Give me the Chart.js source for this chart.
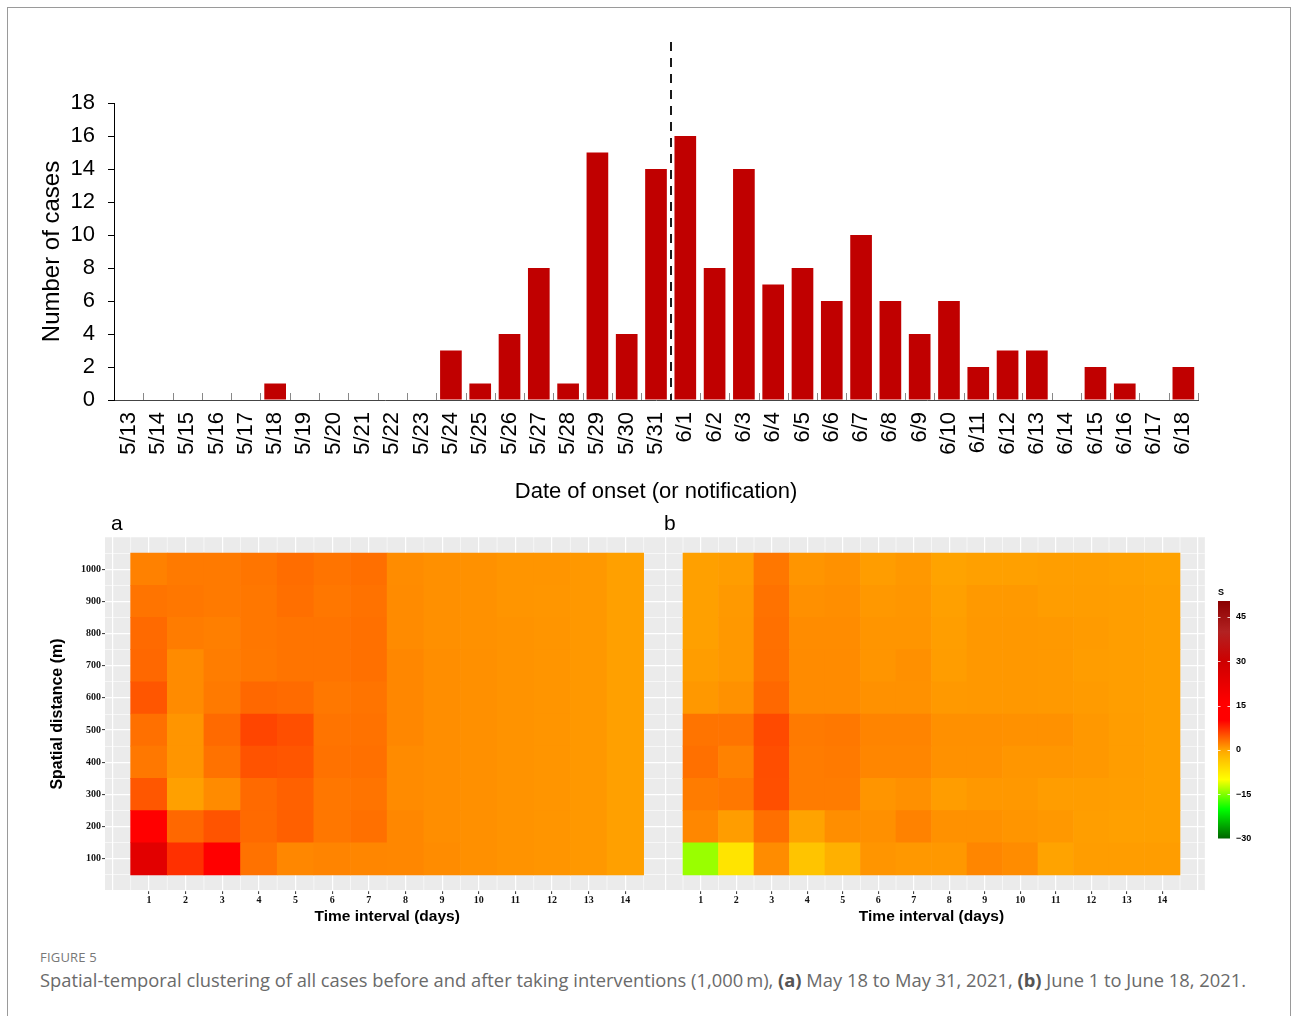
<!DOCTYPE html>
<html>
<head>
<meta charset="utf-8">
<script src="https://cdn.jsdelivr.net/npm/chart.js@4.4.0/dist/chart.umd.min.js"></script>
<style>
  body { margin: 0; background: #fff; width: 1292px; height: 1016px; overflow: hidden; position: relative; font-family: 'Liberation Sans', Arial, sans-serif; }
  .frame { position: absolute; left: 7px; top: 7px; width: 1282px; height: 1100px; border: 1px solid #9a9a9a; }
  canvas { position: absolute; }
  #barChart { left: 0; top: 0; }
  #heatA { left: 0; top: 500px; }
  #heatB { left: 640px; top: 500px; }
  #scaleBar { left: 1205px; top: 580px; }
  .panel { position: absolute; font-size: 21px; color: #000; z-index: 2; line-height: 1; }
  #figLabel { position: absolute; left: 40px; top: 948px; font: 13px 'Open Sans', sans-serif; color: #777; letter-spacing: 0.2px; }
  #caption { position: absolute; left: 40px; top: 967px; font: 17px 'Open Sans', sans-serif; color: #6a6a6a; white-space: nowrap; }
  #caption b { color: #555; }
</style>
</head>
<body>
<div class="frame"></div>
<canvas id="barChart" width="1292" height="520"></canvas>
<canvas id="heatA" width="680" height="440"></canvas>
<canvas id="heatB" width="580" height="440"></canvas>
<canvas id="scaleBar" width="60" height="270"></canvas>
<div class="panel" style="left:111px; top:512px;">a</div>
<div class="panel" style="left:664px; top:512px;">b</div>
<div id="figLabel">FIGURE 5</div>
<div id="caption">Spatial-temporal clustering of all cases before and after taking interventions (1,000&#8201;m), <b>(a)</b> May 18 to May 31, 2021, <b>(b)</b> June 1 to June 18, 2021.</div>
<script>
// ---- epidemic curve ----
const dates = ['5/13','5/14','5/15','5/16','5/17','5/18','5/19','5/20','5/21','5/22','5/23','5/24','5/25','5/26','5/27','5/28','5/29','5/30','5/31',
  '6/1','6/2','6/3','6/4','6/5','6/6','6/7','6/8','6/9','6/10','6/11','6/12','6/13','6/14','6/15','6/16','6/17','6/18'];
const cases = [0,0,0,0,0,1,0,0,0,0,0,3,1,4,8,1,15,4,14,
  16,8,14,7,8,6,10,6,4,6,2,3,3,0,2,1,0,2];
const caseTicks = [0,2,4,6,8,10,12,14,16,18];
const interventionAt = 18.5;   // between 5/31 and 6/1
const interventionTop = 21.7;

// ---- space-time heatmaps (S), rows = distance 100..1000 m, cols = 1..14 days ----
const timeIntervals = [1,2,3,4,5,6,7,8,9,10,11,12,13,14];
const distances = [100,200,300,400,500,600,700,800,900,1000];
const sBefore = [
  [24.0, 7.1, 12.0, 3.1, 1.8, 2.0, 1.9, 1.8, 1.5, 1.3, 1.1, 1.0, 0.8, 0.3],
  [10.5, 3.7, 4.9, 3.6, 4.2, 2.8, 3.2, 1.8, 1.4, 1.3, 1.1, 1.0, 0.8, 0.3],
  [4.7, 0.3, 1.6, 3.6, 4.1, 2.8, 3.0, 1.6, 1.4, 1.3, 1.1, 1.0, 0.8, 0.3],
  [2.7, 1.0, 3.1, 5.0, 4.8, 3.1, 3.2, 1.6, 1.4, 1.3, 1.1, 1.0, 0.8, 0.3],
  [3.2, 1.0, 3.6, 5.8, 5.2, 3.0, 3.1, 1.8, 1.4, 1.3, 1.1, 1.0, 0.8, 0.3],
  [4.8, 1.6, 2.6, 3.7, 3.5, 2.7, 3.0, 1.8, 1.4, 1.3, 1.1, 1.0, 0.8, 0.3],
  [3.7, 1.6, 2.4, 2.7, 3.0, 3.0, 3.2, 1.8, 1.4, 1.3, 1.1, 1.0, 0.8, 0.3],
  [3.6, 2.5, 2.3, 2.8, 3.0, 3.0, 3.2, 1.6, 1.3, 1.2, 1.1, 1.0, 0.8, 0.3],
  [3.0, 2.8, 2.6, 2.8, 3.3, 2.8, 3.1, 1.6, 1.3, 1.2, 1.0, 0.9, 0.8, 0.3],
  [2.2, 2.6, 2.6, 2.9, 3.4, 3.0, 3.3, 1.5, 1.3, 1.2, 1.0, 1.0, 0.8, 0.3]
];
const sAfter = [
  [-14.0, -7.0, 1.5, -3.4, -1.2, 1.0, 0.8, 0.8, 1.9, 1.5, 0.1, 0.5, 0.5, 0.5],
  [1.8, 0.5, 3.3, 0.1, 1.4, 1.3, 2.1, 1.2, 1.2, 1.0, 0.8, 0.4, 0.3, 0.3],
  [2.5, 2.7, 5.2, 2.5, 2.5, 1.0, 1.3, 0.5, 0.8, 0.8, 0.5, 0.5, 0.4, 0.3],
  [3.2, 2.1, 5.3, 2.5, 2.6, 1.9, 1.9, 1.2, 1.2, 0.9, 0.9, 0.8, 0.5, 0.3],
  [3.0, 3.0, 5.5, 2.6, 2.7, 2.0, 2.0, 1.3, 1.3, 1.2, 1.2, 0.8, 0.5, 0.3],
  [0.8, 1.2, 3.7, 1.6, 1.6, 1.2, 1.2, 0.7, 0.8, 0.8, 0.7, 0.6, 0.4, 0.3],
  [0.5, 0.8, 3.3, 1.6, 1.6, 1.0, 1.3, 0.5, 0.8, 0.8, 0.7, 0.5, 0.4, 0.3],
  [0.3, 0.8, 3.2, 1.5, 1.5, 1.0, 1.0, 0.4, 0.8, 0.8, 0.7, 0.6, 0.4, 0.3],
  [0.3, 0.7, 3.1, 1.3, 1.4, 0.8, 0.9, 0.3, 0.7, 0.7, 0.5, 0.5, 0.4, 0.3],
  [0.3, 0.5, 2.8, 1.0, 1.2, 0.5, 0.8, 0.1, 0.3, 0.3, 0.4, 0.4, 0.3, 0.2]
];
const sTicks = [-30,-15,0,15,30,45];
const sMin = -30, sMax = 50.36;

const colorStops = [[-30,'#006400'],[-20,'#00ff00'],[-10,'#ffff00'],[0,'#ffa500'],[10,'#ff0000'],[16,'#ff0000'],[30,'#cd0000'],[40,'#b22222'],[50.36,'#8b0000']];

Chart.defaults.font.family = "'Liberation Sans', Arial, sans-serif";
Chart.defaults.color = '#000';

function hexRgb(h) {
  return [parseInt(h.slice(1,3),16), parseInt(h.slice(3,5),16), parseInt(h.slice(5,7),16)];
}
function sColor(v) {
  if (v <= colorStops[0][0]) return colorStops[0][1];
  for (let i = 1; i < colorStops.length; i++) {
    if (v <= colorStops[i][0]) {
      const [v0, c0] = colorStops[i-1], [v1, c1] = colorStops[i];
      const t = (v - v0) / (v1 - v0);
      const a = hexRgb(c0), b = hexRgb(c1);
      const m = a.map((x, k) => Math.round(x + (b[k] - x) * t));
      return 'rgb(' + m.join(',') + ')';
    }
  }
  return colorStops[colorStops.length-1][1];
}

// ---------- bar chart ----------
const barExtras = {
  id: 'barExtras',
  afterDatasetsDraw(chart) {
    const {ctx, scales: {x, y}} = chart;
    ctx.save();
    ctx.strokeStyle = '#888';
    ctx.lineWidth = 1;
    for (let i = 1; i <= dates.length; i++) {
      const px = Math.round(x.getPixelForValue(i - 0.5)) + 0.5;
      ctx.beginPath();
      ctx.moveTo(px, y.bottom - 7);
      ctx.lineTo(px, y.bottom);
      ctx.stroke();
    }
    const lx = Math.round(x.getPixelForValue(interventionAt));
    ctx.strokeStyle = '#1a1a1a';
    ctx.lineWidth = 2;
    ctx.setLineDash([9, 7]);
    ctx.beginPath();
    ctx.moveTo(lx, y.getPixelForValue(interventionTop));
    ctx.lineTo(lx, y.bottom);
    ctx.stroke();
    ctx.restore();
  }
};

new Chart(document.getElementById('barChart'), {
  type: 'bar',
  data: {
    labels: dates,
    datasets: [{
      data: cases,
      backgroundColor: '#c00000',
      barPercentage: 0.74,
      categoryPercentage: 1
    }]
  },
  options: {
    responsive: false,
    animation: false,
    layout: { padding: { top: 103, right: 94, left: 0, bottom: 0 } },
    plugins: { legend: { display: false }, tooltip: { enabled: false } },
    scales: {
      x: {
        grid: { drawOnChartArea: false, drawTicks: false },
        border: { color: '#444', width: 1 },
        ticks: { autoSkip: false, minRotation: 90, maxRotation: 90, padding: 12, font: { size: 22 } },
        title: { display: true, text: 'Date of onset (or notification)', font: { size: 22 }, padding: { top: 0, bottom: 15 } },
        afterFit: (s) => { s.height = 120; }
      },
      y: {
        min: 0, max: 18,
        afterBuildTicks: (s) => { s.ticks = caseTicks.map(v => ({ value: v })); },
        ticks: { padding: 13, font: { size: 22 } },
        grid: { drawOnChartArea: false, tickLength: 6, color: '#000' },
        border: { color: '#000', width: 1 },
        title: { display: true, text: 'Number of cases', font: { size: 24 }, padding: { top: 37.6, bottom: 0 } },
        afterFit: (s) => { s.width = 114; }
      }
    }
  },
  plugins: [barExtras]
});

// ---------- heatmaps ----------
const panelBg = {
  id: 'panelBg',
  beforeDraw(chart) {
    const {ctx, chartArea: a} = chart;
    ctx.save();
    ctx.fillStyle = '#ebebeb';
    ctx.fillRect(a.left, a.top, a.right - a.left, a.bottom - a.top);
    ctx.restore();
  },
  // minor vertical grid lines halfway between the day ticks
  beforeDatasetsDraw(chart) {
    const {ctx, chartArea: a, scales: {x}} = chart;
    ctx.save();
    ctx.strokeStyle = '#fff';
    ctx.lineWidth = 0.6;
    for (let t = 0; t < 15; t++) {
      const px = x.getPixelForValue(t + 0.5);
      ctx.beginPath();
      ctx.moveTo(px, a.top);
      ctx.lineTo(px, a.bottom);
      ctx.stroke();
    }
    ctx.restore();
  }
};

function steps(from, to, step) {
  const out = [];
  for (let v = from; v <= to + 1e-9; v += step) out.push(Math.round(v * 100) / 100);
  return out;
}

function heatmap(id, values, showY, yWidth, rightPad) {
  const half = (distances[1] - distances[0]) / 2;
  const datasets = distances.map((d, r) => ({
    data: timeIntervals.map(t => ({ x: t, y: [d - half, d + half] })),
    backgroundColor: values[r].map(sColor),
    borderWidth: 0,
    barPercentage: 1,
    categoryPercentage: 1,
    grouped: false
  }));
  const tickFont = { family: "'Liberation Serif', 'Times New Roman', serif", size: 10, weight: 'bold' };
  const isMajorX = (v) => timeIntervals.includes(v);
  const isMajorY = (v) => distances.includes(v);
  return new Chart(document.getElementById(id), {
    type: 'bar',
    data: { datasets },
    options: {
      responsive: false,
      animation: false,
      layout: { padding: { top: 37, right: rightPad, left: 0, bottom: 0 } },
      plugins: { legend: { display: false }, tooltip: { enabled: false } },
      scales: {
        x: {
          type: 'linear', min: -0.2, max: 15.2, offset: false,
          afterBuildTicks: (s) => { s.ticks = steps(0, 15, 1).map(v => ({ value: v })); },
          ticks: { autoSkip: false, maxRotation: 0, padding: 0, font: tickFont, color: '#111',
            callback: (v) => isMajorX(v) ? String(v) : '' },
          grid: {
            offset: false,
            color: '#fff',
            lineWidth: 1.2,
            tickColor: (c) => c.tick && isMajorX(c.tick.value) ? '#333' : 'rgba(0,0,0,0)',
            tickLength: 3, tickWidth: 1
          },
          border: { display: false },
          title: { display: true, text: 'Time interval (days)', font: { size: 15.5, weight: 'bold' }, padding: { top: 0, bottom: 13.7 } },
          afterFit: (s) => { s.height = 49; }
        },
        y: {
          min: 0, max: 1100,
          afterBuildTicks: (s) => { s.ticks = steps(0, 1100, 50).map(v => ({ value: v })); },
          ticks: { display: showY, autoSkip: false, padding: 1, font: tickFont, color: '#111',
            callback: (v) => isMajorY(v) ? String(v) : '' },
          grid: {
            color: '#fff',
            lineWidth: (c) => c.tick && c.tick.value % 100 === 0 ? 1.2 : 0.6,
            tickColor: (c) => showY && c.tick && isMajorY(c.tick.value) ? '#333' : 'rgba(0,0,0,0)',
            tickLength: 3, tickWidth: 1
          },
          border: { display: false },
          title: { display: showY, text: 'Spatial distance (m)', font: { size: 16, weight: 'bold' }, padding: { top: 48.4, bottom: 0 } },
          afterFit: (s) => { s.width = yWidth; }
        }
      }
    },
    plugins: [panelBg]
  });
}

heatmap('heatA', sBefore, true, 105, 10.7);
heatmap('heatB', sAfter, false, 18.15, 15.15);

// ---------- colour bar ----------
const scaleTicksMark = {
  id: 'scaleTicksMark',
  afterDatasetsDraw(chart) {
    const {ctx, chartArea: a, scales: {y}} = chart;
    ctx.save();
    ctx.strokeStyle = 'rgba(255,255,255,0.8)';
    ctx.lineWidth = 1;
    sTicks.forEach(v => {
      const py = Math.round(y.getPixelForValue(v)) + 0.5;
      ctx.beginPath();
      ctx.moveTo(a.left, py); ctx.lineTo(a.left + 2.5, py);
      ctx.moveTo(a.right - 2.5, py); ctx.lineTo(a.right, py);
      ctx.stroke();
    });
    ctx.restore();
  }
};

new Chart(document.getElementById('scaleBar'), {
  type: 'bar',
  data: {
    labels: ['S'],
    datasets: [{
      data: [[sMin, sMax]],
      barPercentage: 1,
      categoryPercentage: 1,
      borderWidth: 0,
      backgroundColor: (c) => {
        const {chart} = c;
        const a = chart.chartArea;
        if (!a) return sColor(0);
        const y = chart.scales.y;
        const g = chart.ctx.createLinearGradient(0, y.getPixelForValue(sMin), 0, y.getPixelForValue(sMax));
        colorStops.forEach(([v, col]) => g.addColorStop((v - sMin) / (sMax - sMin), col));
        return g;
      }
    }]
  },
  options: {
    responsive: false,
    animation: false,
    layout: { padding: { left: 13, right: 0, top: 0, bottom: 9 } },
    plugins: {
      legend: { display: false }, tooltip: { enabled: false },
      title: { display: true, text: 'S', align: 'start', color: '#000', font: { size: 9, weight: 'bold' }, padding: { top: 7, bottom: 3.2 } }
    },
    scales: {
      x: { display: false },
      y: {
        position: 'right', min: sMin, max: sMax,
        afterBuildTicks: (s) => { s.ticks = sTicks.map(v => ({ value: v })); },
        ticks: { padding: 6, font: { size: 9, weight: 'bold' }, color: '#000',
          callback: (v) => v < 0 ? '\u2212' + (-v) : String(v) },
        grid: { display: false, drawTicks: false },
        border: { display: false },
        afterFit: (s) => { s.width = 35; }
      }
    }
  },
  plugins: [scaleTicksMark]
});

// fit caption line to its printed width
const cap = document.getElementById('caption');
const capWidth = cap.getBoundingClientRect().width;
cap.style.fontSize = (17 * 1207 / capWidth).toFixed(2) + 'px';
</script>
</body>
</html>
